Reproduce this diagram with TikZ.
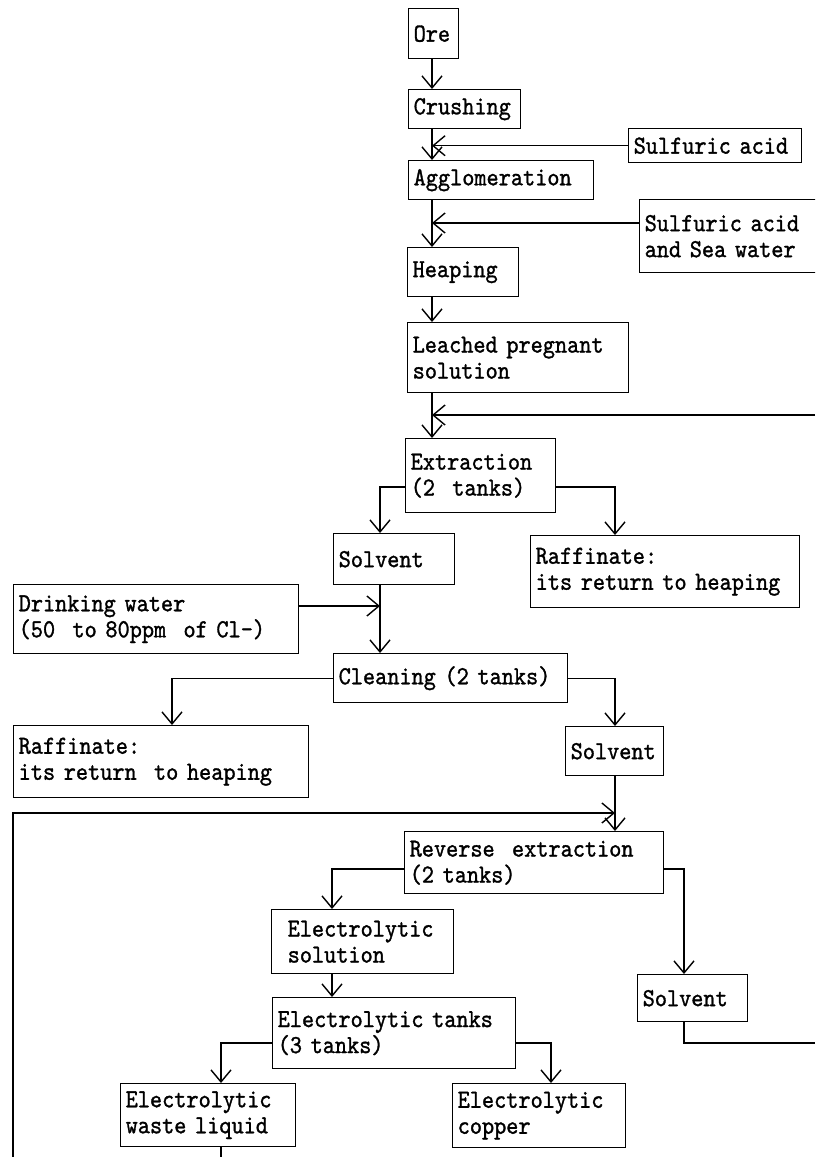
\documentclass[tikz,border=0pt]{standalone}
\usepackage{fontspec}
\setmainfont{lmmono10-regular.otf}[FakeStretch=0.89, FakeBold=1.2]
\usetikzlibrary{arrows.meta,calc}

% box: name, left, top, width, height, text
\newcommand\flowbox[6]{%
  \pgfmathsetmacro\boxtw{#4-10}%
  \node[box, text width=\boxtw pt, minimum height=#5pt] (#1) at (#2,#3) {#6};}

\begin{document}
\begin{tikzpicture}[x=1pt, y=-1pt, line width=1.4pt,
  box/.style={draw, rectangle, anchor=north west, inner xsep=5pt, inner ysep=0pt,
    align=left, font=\fontsize{26}{26}\selectfont},
  flow/.style={-{Straight Barb[length=12pt,width=20pt]}}]
\useasboundingbox (0,0) rectangle (815,1157);
\clip (0,0) rectangle (815,1157);

% process boxes
\flowbox{ore}{408}{8}{50}{50}{Ore}
\flowbox{crushing}{408}{89}{112}{39}{Crushing}
\flowbox{acid1}{628}{128}{173}{34}{Sulfuric acid}
\flowbox{agglo}{408}{160}{185}{39}{Agglomeration}
\flowbox{acid2}{639}{199}{200}{73}{Sulfuric acid\\and Sea water}
\flowbox{heaping}{407}{247}{111}{49}{Heaping}
\flowbox{leached}{407}{322}{221}{70}{Leached pregnant\\solution}
\flowbox{extraction}{405}{438}{150}{74}{Extraction\\(2~ tanks)}
\flowbox{solvent1}{333}{533}{121}{51}{Solvent}
\flowbox{raff1}{530}{535}{269}{72}{Raffinate:\\its return to heaping}
\flowbox{drink}{13}{584}{285}{69}{Drinking water\\(50~ to 80ppm~ of Cl-)}
\flowbox{cleaning}{333}{653}{234}{49}{Cleaning (2 tanks)}
\flowbox{raff2}{13}{725}{295}{72}{Raffinate:\\its return~ to heaping}
\flowbox{solvent2}{565}{726}{98}{49}{Solvent}
\flowbox{reverse}{404}{831}{259}{62}{Reverse~ extraction\\(2 tanks)}
\node[box, inner xsep=16pt, text width=150pt, minimum height=64pt] (elsol) at (271,909) {Electrolytic\\solution};
\flowbox{solvent3}{637}{974}{110}{47}{Solvent}
\flowbox{eltanks}{272}{997}{243}{71}{Electrolytic tanks\\(3 tanks)}
\flowbox{waste}{120}{1083}{175}{63}{Electrolytic\\waste liquid}
\flowbox{copper}{452}{1083}{173}{64}{Electrolytic\\copper}

% columns of the vertical runs
\coordinate (colA) at (432,0);
\coordinate (colB) at (380,0);
\coordinate (colC) at (615,0);
\coordinate (colD) at (172,0);
\coordinate (colE) at (332,0);
\coordinate (colF) at (684,0);
\coordinate (colG) at (221,0);
\coordinate (colH) at (551,0);

% main line: ore to extraction
\draw[flow] (ore.south -| colA) -- (crushing.north -| colA);
\draw[flow] (crushing.south -| colA) -- (agglo.north -| colA);
\draw[flow] (acid1.west) -- (acid1.west -| colA);
\draw[flow] (agglo.south -| colA) -- (heaping.north -| colA);
\coordinate (a2) at ($(acid2.north west)+(0,24)$);
\draw[flow] (a2) -- (a2 -| colA);
\draw[flow] (heaping.south -| colA) -- (leached.north -| colA);
\draw[flow] (leached.south -| colA) -- (extraction.north -| colA);
\coordinate (ret) at (815,415);
\draw[flow] (ret) -- (ret -| colA);

% extraction branches
\coordinate (exl) at ($(extraction.north west)+(0,49)$);
\coordinate (exr) at ($(extraction.north east)+(0,49)$);
\draw[flow] (exl) -| (colB |- solvent1.north);
\draw[flow] (exr) -| (colC |- raff1.north);

% cleaning
\draw[flow] (solvent1.south -| colB) -- (cleaning.north -| colB);
\coordinate (dw) at ($(drink.north east)+(0,22)$);
\draw[flow] (dw) -- (dw -| colB);
\draw[flow] (cleaning.west) -| (colD |- raff2.north);
\draw[flow] (cleaning.east) -| (colC |- solvent2.north);

% reverse extraction and return loop
\draw[flow] (solvent2.south -| colC) -- (reverse.north -| colC);
\coordinate (loopS) at (13,1157);
\coordinate (loopT) at (13,813);
\draw[flow] (loopS) -- (loopT) -- (colC |- loopT);
\coordinate (rvl) at ($(reverse.north west)+(0,38)$);
\coordinate (rvr) at ($(reverse.north east)+(0,38)$);
\draw[flow] (rvl) -| (colE |- elsol.north);
\draw[flow] (rvr) -| (colF |- solvent3.north);

% electrolysis
\draw[flow] (elsol.south -| colE) -- (eltanks.north -| colE);
\coordinate (etl) at ($(eltanks.north west)+(0,46)$);
\coordinate (etr) at ($(eltanks.north east)+(0,46)$);
\draw[flow] (etl) -| (colG |- waste.north);
\draw[flow] (etr) -| (colH |- copper.north);
\coordinate (s3out) at (815,1043);
\draw (solvent3.south -| colF) |- (s3out);
\coordinate (wout) at (221,1157);
\draw (waste.south -| colG) -- (wout);
\end{tikzpicture}
\end{document}
